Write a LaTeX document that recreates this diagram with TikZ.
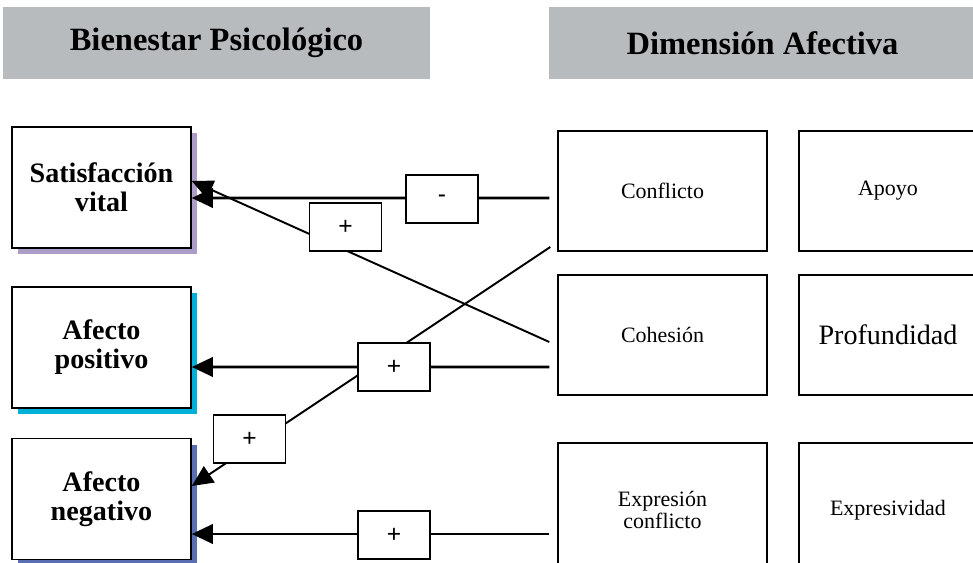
\documentclass[tikz,border=0pt]{standalone}
\usepackage{fontspec}
\setmainfont{Liberation Serif}
\newfontfamily\signfont{Liberation Sans}
\usetikzlibrary{arrows.meta,calc,shadows}
\definecolor{hdrgray}{RGB}{183,187,189}
\definecolor{satpurple}{RGB}{171,156,200}
\definecolor{poscyan}{RGB}{0,176,216}
\definecolor{negblue}{RGB}{90,110,180}

\begin{document}
\begin{tikzpicture}[line join=miter,x=0.02cm,y=-0.02cm,
  >={Triangle[length=12pt,width=11pt]},
  hdr/.style={fill=hdrgray,minimum width=8.54cm,minimum height=1.44cm,
    font=\fontsize{18.5}{20}\selectfont\bfseries},
  wellbox/.style={draw,fill=white,line width=0.9pt,minimum width=3.58cm,
    minimum height=2.42cm,align=center,font=\fontsize{16}{16.5}\selectfont\bfseries,
    drop shadow={shadow xshift=0.12cm,shadow yshift=-0.12cm,fill=#1,opacity=1}},
  dimbox/.style={draw,line width=0.8pt,minimum height=2.4cm,align=center,
    font=\fontsize{12.5}{13}\selectfont},
  signbox/.style={draw,fill=white,line width=1.1pt,minimum width=1.44cm,
    minimum height=0.96cm,font=\signfont\fontsize{14}{15}\selectfont},
  bold arrow/.style={line width=1.7pt,->},
  thin arrow/.style={line width=1.1pt,->}]
\useasboundingbox (0,0) rectangle (973,563);
% headers
\node[hdr] (hwell) at (216.5,43) {Bienestar Psicológico};
\node[hdr] (hdim) at (762.5,43) {Dimensión Afectiva};
% bienestar
\node[wellbox=satpurple] (sat) at (101.5,187.5) {Satisfacción\\vital};
\node[wellbox=poscyan] (pos) at (101.5,347.5) {Afecto\\positivo};
\node[wellbox=negblue] (neg) at (101.5,499) {Afecto\\negativo};
% dimension afectiva
\node[dimbox,minimum width=4.18cm] (conf) at (662.5,191) {Conflicto};
\node[dimbox,minimum width=4.18cm] (coh) at (662.5,335) {Cohesión};
\node[dimbox,minimum width=4.18cm,minimum height=2.68cm] (expc) at (662.5,510) {Expresión\\conflicto};
\node[dimbox,minimum width=3.56cm] (apoyo) at (888,191) {Apoyo};
\node[dimbox,minimum width=3.56cm,font=\fontsize{16}{17}\selectfont] (prof) at (888,335) {Profundidad};
\node[dimbox,minimum width=3.56cm,minimum height=2.68cm] (expr) at (888,510) {Expresividad};
% paths
\draw[bold arrow] ($(conf.west)+(-8,7)$) -- ($(sat.east)+(0,10.5)$);
\draw[thin arrow] ($(coh.west)+(-8,7)$) -- ($(sat.east)+(0,-6.5)$);
\draw[thin arrow] ($(conf.west)+(-7,56)$) -- ($(neg.east)+(0,-13)$);
\draw[bold arrow] ($(coh.west)+(-8,32)$) -- ($(pos.east)+(0,19.5)$);
\draw[bold arrow] ($(expc.west)+(-8,24)$) -- ($(neg.east)+(0,35)$);
% signs
\node[signbox] (sgnA) at (442,199) {-};
\node[signbox] (sgnB) at (345.5,227) {+};
\node[signbox] (sgnC) at (394,367) {+};
\node[signbox] (sgnD) at (249.5,439) {+};
\node[signbox] (sgnE) at (394,535) {+};
\end{tikzpicture}
\end{document}
